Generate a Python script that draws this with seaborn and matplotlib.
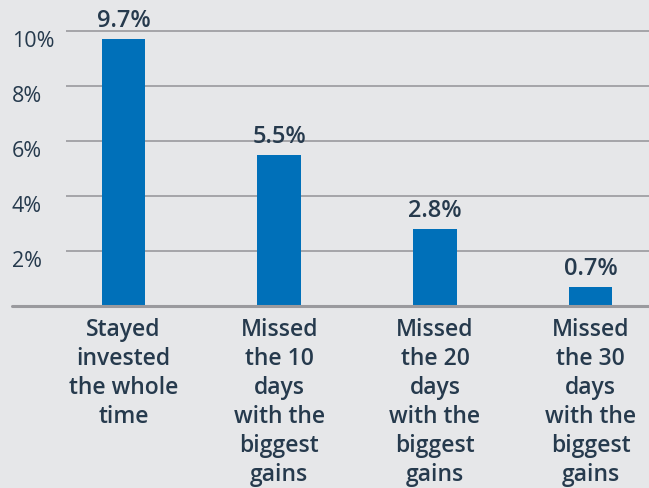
import matplotlib
matplotlib.use("Agg")
import matplotlib.pyplot as plt
import matplotlib.transforms as mtransforms
import seaborn as sns
import pandas as pd

# data
categories = [
    "Stayed\ninvested\nthe whole\ntime",
    "Missed\nthe 10\ndays\nwith the\nbiggest\ngains",
    "Missed\nthe 20\ndays\nwith the\nbiggest\ngains",
    "Missed\nthe 30\ndays\nwith the\nbiggest\ngains",
]
returns = [9.7, 5.5, 2.8, 0.7]
yticks = [2, 4, 6, 8, 10]

bg = "#e6e7e9"
bar_color = "#0070b9"
text_color = "#263a4d"
line_color = "#9a9a9e"

sns.set_style("white")
plt.rcParams["font.family"] = ["Open Sans", "DejaVu Sans"]

df = pd.DataFrame({"label": categories, "value": returns})

fig = plt.figure(figsize=(6.49, 4.89), dpi=100, facecolor=bg)
ax = fig.add_axes([66 / 649, 1 - 307 / 489, 1 - 66 / 649, 302.5 / 489])
ax.set_facecolor(bg)

sns.barplot(data=df, x="label", y="value", color=bar_color, saturation=1,
            width=0.28, linewidth=0, ax=ax, zorder=3)

ax.set_ylim(0, 11)
ax.set_xlim(-0.37, 3.375)

# gridlines
ax.set_yticks(yticks)
ax.set_yticklabels([f"{t}%" for t in yticks], ha="left", fontsize=15.5,
                   color=text_color)
ax.tick_params(axis="y", length=0, pad=39)
ax.yaxis.grid(True, color=line_color, linewidth=1.2)
ax.set_axisbelow(True)

# y labels sit a little below their gridlines in the original
shift = mtransforms.ScaledTranslation(0, -5 / 72, fig.dpi_scale_trans)
for lab in ax.get_yticklabels():
    lab.set_transform(lab.get_transform() + shift)

ax.tick_params(axis="x", length=0, pad=8)
for lab in ax.get_xticklabels():
    lab.set_fontsize(16.5)
    lab.set_fontweight("semibold")
    lab.set_color(text_color)
    lab.set_linespacing(1.28)
    lab.set_va("top")

for s in ax.spines.values():
    s.set_visible(False)

# bottom axis line reaching under the tick labels
ax.plot([-54 / 583, 1], [0, 0], transform=ax.transAxes, color=line_color,
        linewidth=2.2, clip_on=False, zorder=4)

for c in ax.containers:
    ax.bar_label(c, fmt="%.1f%%", padding=5, fontsize=17, fontweight="semibold",
                 color=text_color)

ax.set_xlabel("")
ax.set_ylabel("")

fig.savefig("out.png", dpi=100, facecolor=bg)
